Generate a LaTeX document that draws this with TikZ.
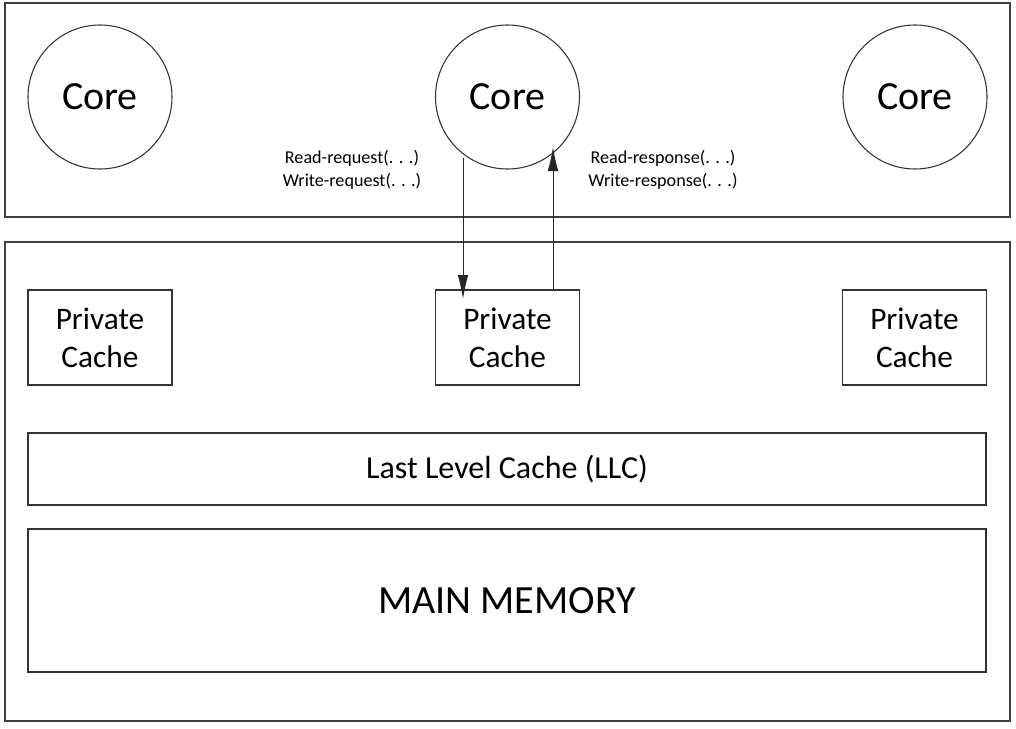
\documentclass[tikz,border=0pt]{standalone}
\usepackage{fontspec}
\setmainfont{Carlito}
\usetikzlibrary{arrows.meta}
\begin{document}
\begin{tikzpicture}[x=0.75pt,y=-0.75pt,
  line width=0.8pt,
  frame/.style={draw=black!75},
  box/.style={draw=black!80, fill=white, inner sep=0pt},
  core/.style={circle, draw=black!80, minimum size=108pt, inner sep=0pt, font=\fontsize{30}{34}\selectfont},
  pc/.style={box, minimum width=108pt, minimum height=71.25pt, align=center, font=\fontsize{23.5}{28.5}\selectfont},
  lbl/.style={font=\fontsize{13.6}{17.2}\selectfont, align=center, inner sep=0pt},
  arr/.style={-{Latex[length=18pt,width=8pt]}, draw=black!85, line width=0.7pt}]
\useasboundingbox (0,0) rectangle (1016,728);
\fill[white] (0,0) rectangle (1016,728);
% outer frames
\draw[frame] (5,3) rectangle (1010,217);
\draw[frame] (5,242) rectangle (1010,721);
% cores
\node[core] (c1) at (100,97) {Core};
\node[core] (c2) at (507.5,97) {Core};
\node[core] (c3) at (915,97) {Core};
% private caches
\node[pc] (p1) at (100,337.5) {Private\\Cache};
\node[pc] (p2) at (507.5,337.5) {Private\\Cache};
\node[pc] (p3) at (914.5,337.5) {Private\\Cache};
% LLC and memory
\node[box, minimum width=718.5pt, minimum height=54pt, font=\fontsize{24}{28}\selectfont] (llc) at (507,469) {Last Level Cache (LLC)};
\node[box, minimum width=718.5pt, minimum height=107.25pt, font=\fontsize{30}{34}\selectfont] (mem) at (507,600.5) {MAIN MEMORY};
% arrows
\coordinate (a1) at (463,158);
\coordinate (a2) at (463,299);
\draw[arr] (a1) -- (a2);
\coordinate (b1) at (553,290);
\coordinate (b2) at (553,147);
\draw[arr] (b1) -- (b2);
% labels
\node[lbl] (l1) at (352,170) {Read-request(. . .)\\Write-request(. . .)};
\node[lbl] (l2) at (663,170) {Read-response(. . .)\\Write-response(. . .)};
\end{tikzpicture}
\end{document}
